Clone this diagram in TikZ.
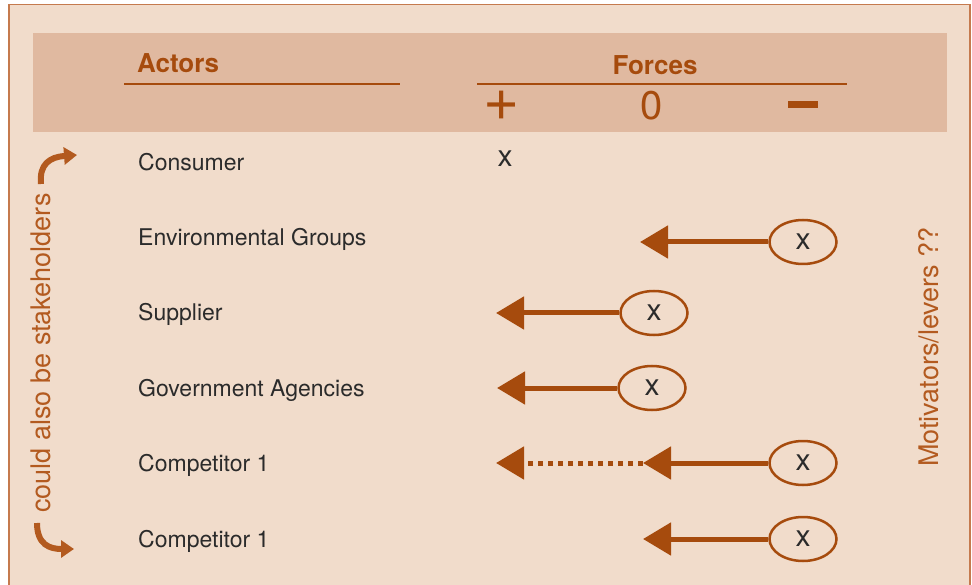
\documentclass[tikz,border=0pt]{standalone}
\usepackage{fontspec}
\setmainfont{TeX Gyre Heros}
\usetikzlibrary{arrows.meta,shapes.geometric}
\definecolor{paper}{HTML}{F1DCCB}
\definecolor{band}{HTML}{E0B9A0}
\definecolor{frame}{HTML}{C57A4E}
\definecolor{rust}{HTML}{A64B0D}
\definecolor{side}{HTML}{B35A1F}
\definecolor{ink}{HTML}{2B2B2B}
\tikzset{
  actor/.style={anchor=base west, text=ink, inner sep=0pt, font=\fontsize{23}{26}\selectfont},
  head/.style={anchor=base, text=rust, inner sep=0pt, font=\bfseries\fontsize{26}{30}\selectfont},
  sign/.style={text=rust, inner sep=0pt, font=\fontsize{40}{44}\selectfont},
  cross/.style={text=ink, inner sep=0pt, font=\fontsize{30}{32}\selectfont},
  spot/.style={cross, draw=rust, line width=2.5pt, ellipse, minimum width=67pt, minimum height=44pt},
  push/.style={draw=rust, line width=5pt, -{Triangle[length=28pt,width=32pt]}},
  curl/.style={draw=side, line width=6pt, -{Triangle[length=13pt,width=17pt]}},
  sidetext/.style={text=side, rotate=90, inner sep=0pt, font=\fontsize{27}{30}\selectfont}
}
\begin{document}
\begin{tikzpicture}[x=1pt, y=-1pt]
      \useasboundingbox (0,0) rectangle (972,585);
      \clip (0,0) rectangle (972,585);
      \fill[white] (0,0) rectangle (972,585);
      \filldraw[fill=paper, draw=frame, line width=1.5pt] (9,4.5) rectangle (970,620);
      \fill[band] (33,33) rectangle (947,132);

      \node[head, anchor=base west] (actors) at (137,73) {Actors};
      \node[head] (forces) at (655,75) {Forces};
      \draw[rust, line width=1.5pt] (124,84) -- (400,84);
      \draw[rust, line width=1.5pt] (477,84) -- (847,84);
      \node[sign, font=\fontsize{62}{64}\selectfont] (plus) at (502,106) {+};
      \node[sign] (zero) at (652,106) {0};
      \node[sign, text=rust] (minus) at (803,105) {\color{rust}\rule{30pt}{7pt}};

      \node[actor] (consumer) at (138,171) {Consumer};
      \node[actor] (envgroups) at (138,246) {Environmental Groups};
      \node[actor] (supplier) at (138,321) {Supplier};
      \node[actor] (agencies) at (138,396) {Government Agencies};
      \node[actor] (compA) at (138,471) {Competitor 1};
      \node[actor] (compB) at (138,547) {Competitor 1};

      \node[cross] (consx) at (505,159) {x};

      \node[spot] (envx) at (803,242) {x};
      \coordinate (envtip) at (640,242);
      \draw[push] (envx.west) -- (envtip);

      \node[spot] (supx) at (654,313) {x};
      \coordinate (suptip) at (496,313);
      \draw[push] (supx.west) -- (suptip);

      \node[spot] (govx) at (652,388) {x};
      \coordinate (govtip) at (497,388);
      \draw[push] (govx.west) -- (govtip);

      \node[spot] (compAx) at (803,463) {x};
      \coordinate (compAmid) at (643,463);
      \coordinate (compAtip) at (496,463);
      \draw[push] (compAx.west) -- (compAmid);
      \draw[push, dash pattern=on 5pt off 5pt] (compAmid) -- (compAtip);

      \node[spot] (compBx) at (803,539) {x};
      \coordinate (compBtip) at (643,539);
      \draw[push] (compBx.west) -- (compBtip);

      \node[sidetext] (stake) at (41,353) {could also be stakeholders};
      \node[sidetext] (levers) at (929,347) {Motivators/levers ??};
      \draw[curl] (41,184) .. controls (39,164) and (50,157) .. (77,155);
      \draw[curl] (37,523) .. controls (37,545) and (50,549) .. (74,549);
    \end{tikzpicture}
\end{document}
